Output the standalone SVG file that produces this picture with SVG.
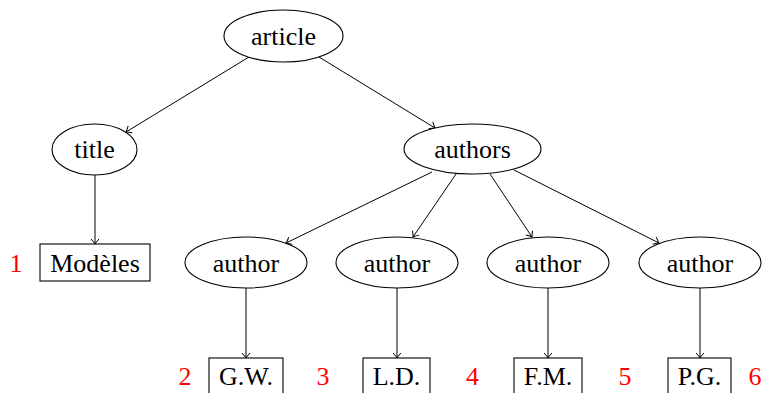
<svg xmlns="http://www.w3.org/2000/svg" width="762" height="393" viewBox="0 0 762 393">
<style>
text{font-family:'Liberation Serif','Times New Roman',Times,serif;font-size:26px;fill:#000;text-anchor:middle}
.n{fill:#ff0000}
ellipse,rect{fill:#fff;stroke:#000;stroke-width:1.1}
.e line{stroke:#000;stroke-width:1;marker-end:url(#arr)}
</style>
<defs>
<marker id="arr" markerUnits="userSpaceOnUse" markerWidth="12" markerHeight="12" refX="0" refY="0" viewBox="-7 -6 8 12" orient="auto" overflow="visible">
<path d="M-5,-4 Q-1.5,-0.8 0,0 Q-1.5,0.8 -5,4" fill="none" stroke="#000" stroke-width="1"/>
</marker>
</defs>
<g class="e" id="edges">
<line x1="249" y1="57" x2="126" y2="132"/>
<line x1="319" y1="57" x2="435" y2="128"/>
<line x1="95" y1="175" x2="95" y2="244"/>
<line x1="432" y1="172" x2="286" y2="243"/>
<line x1="456" y1="174" x2="413" y2="237"/>
<line x1="490" y1="174" x2="532" y2="237"/>
<line x1="514" y1="170" x2="659" y2="243"/>
<line x1="246" y1="288" x2="246" y2="358"/>
<line x1="397" y1="288" x2="397" y2="358"/>
<line x1="548" y1="288" x2="548" y2="358"/>
<line x1="700" y1="288" x2="700" y2="358"/>
</g>
<g id="article"><ellipse cx="283.5" cy="36" rx="59.5" ry="26"/><text x="283.5" y="45" font-family="Liberation Serif, serif">article</text></g>
<g id="title"><ellipse cx="94.5" cy="149.5" rx="42.5" ry="25.5"/><text x="94.5" y="158">title</text></g>
<g id="authors"><ellipse cx="472.5" cy="149" rx="68.5" ry="25"/><text x="472.5" y="158">authors</text></g>
<g id="modeles"><rect x="40" y="244" width="110" height="37"/><text x="95" y="272">Modèles</text></g>
<g id="n1"><text class="n" x="16" y="272">1</text></g>
<g id="author1"><ellipse cx="246" cy="262.5" rx="61" ry="25.5"/><text x="246" y="271.5">author</text></g>
<g id="author2"><ellipse cx="397" cy="262.5" rx="61" ry="25.5"/><text x="397" y="271.5">author</text></g>
<g id="author3"><ellipse cx="548" cy="262.5" rx="61" ry="25.5"/><text x="548" y="271.5">author</text></g>
<g id="author4"><ellipse cx="700" cy="262.5" rx="61" ry="25.5"/><text x="700" y="271.5">author</text></g>
<g id="gw"><rect x="209" y="358" width="74" height="40"/><text x="246" y="385">G.W.</text></g>
<g id="ld"><rect x="363" y="358" width="67" height="40"/><text x="396.5" y="385">L.D.</text></g>
<g id="fm"><rect x="514" y="358" width="68" height="40"/><text x="548" y="385">F.M.</text></g>
<g id="pg"><rect x="668" y="358" width="63" height="40"/><text x="699.5" y="385">P.G.</text></g>
<g id="nums">
<text class="n" x="185" y="385">2</text>
<text class="n" x="323" y="385">3</text>
<text class="n" x="472.5" y="385">4</text>
<text class="n" x="625" y="385">5</text>
<text class="n" x="755" y="385">6</text>
</g>
</svg>
